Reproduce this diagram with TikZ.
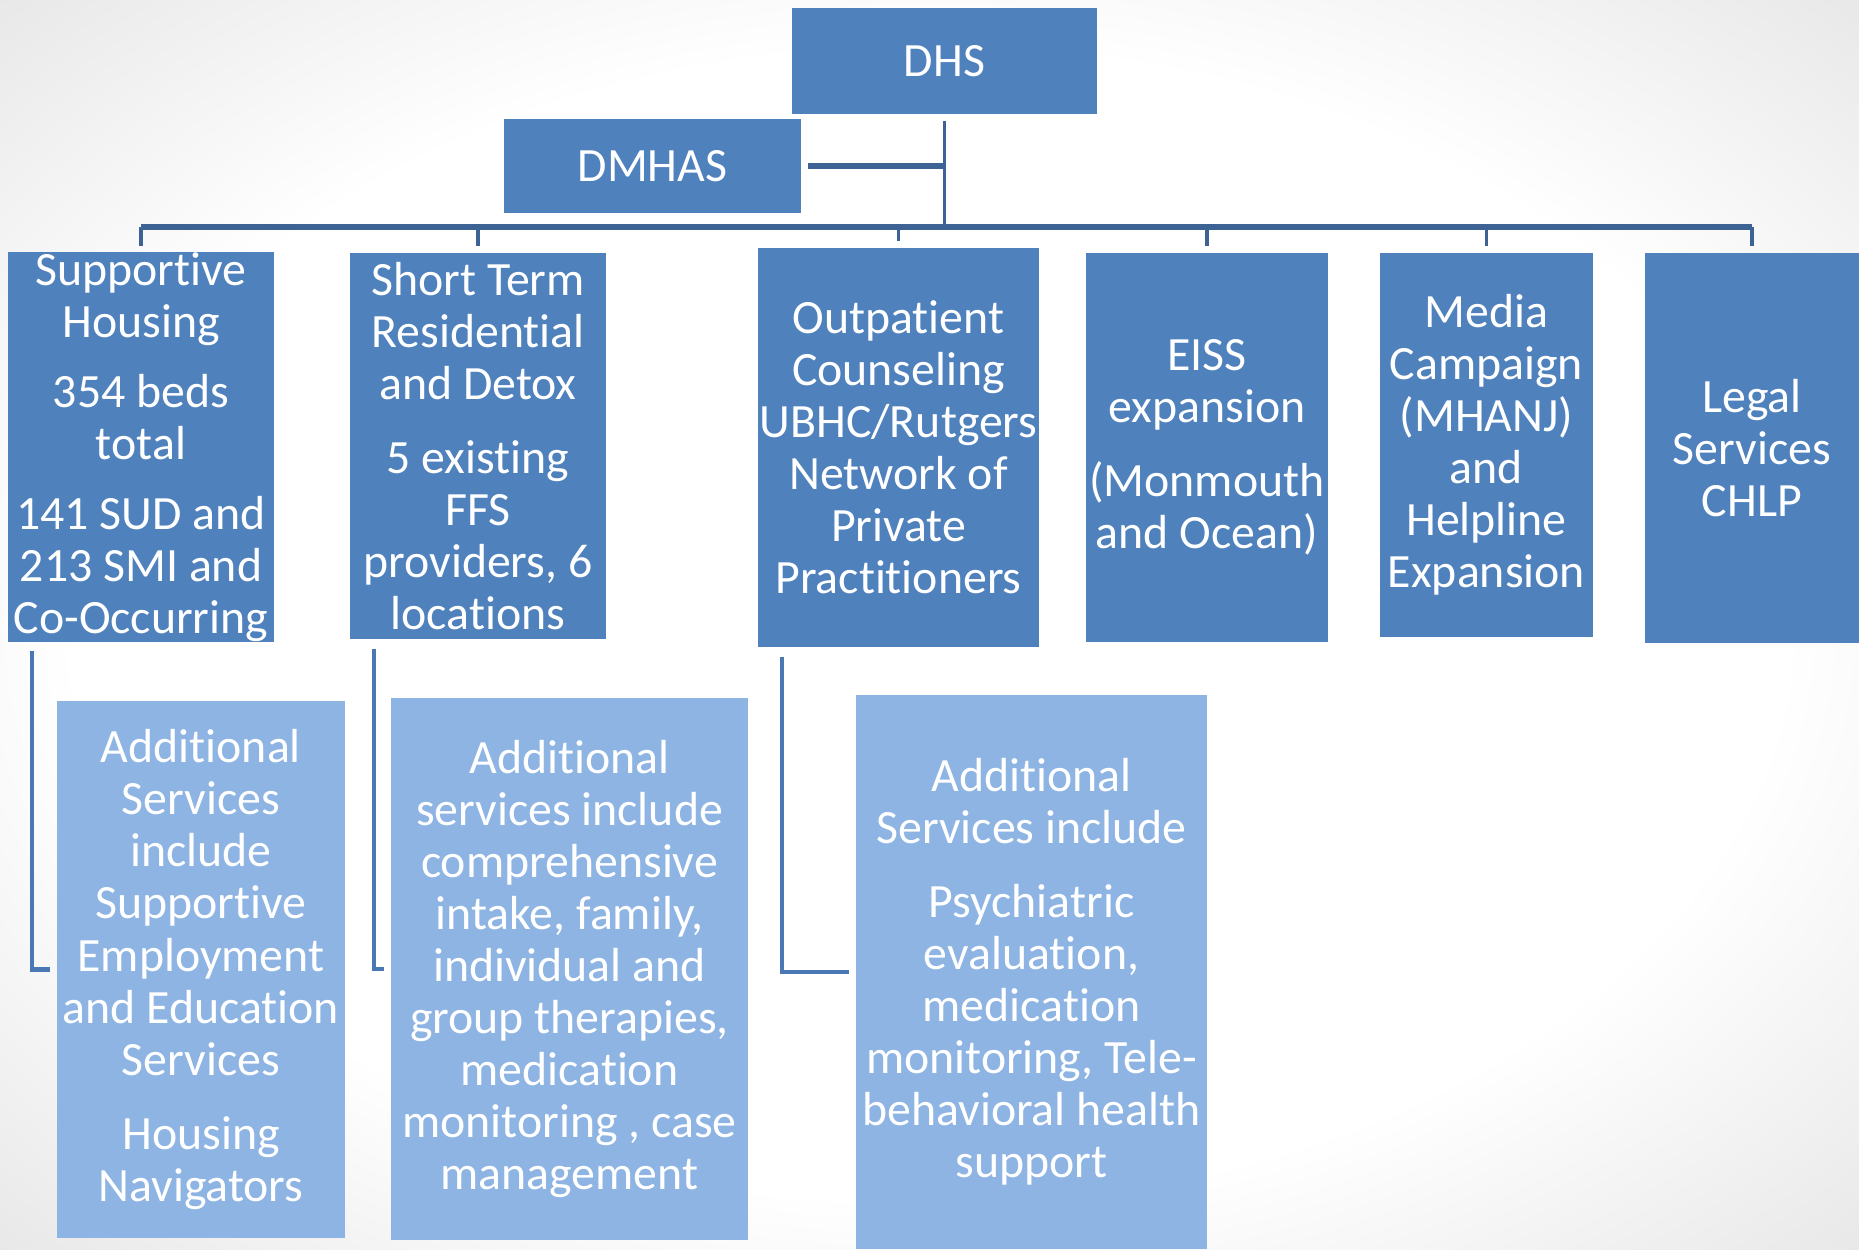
\documentclass[tikz,border=0pt]{standalone}
\usepackage{fontspec}
\setmainfont{Carlito}[Ligatures={NoCommon},Contextuals={NoAlternate}]
\usetikzlibrary{positioning,calc}
\definecolor{boxblue}{RGB}{79,129,189}
\definecolor{subblue}{RGB}{142,180,227}
\definecolor{busblue}{RGB}{60,99,148}
\definecolor{elbowblue}{RGB}{74,120,180}
\definecolor{bggray}{RGB}{231,231,231}
\pgfdeclareradialshading{bgglow}{\pgfpoint{0bp}{0bp}}{color(0bp)=(white); color(23bp)=(white); color(36bp)=(bggray); color(50bp)=(bggray)}

\begin{document}
\begin{tikzpicture}[font=\fontsize{13.6}{14.8}\selectfont]
   \tikzstyle{dept}=[rectangle,fill=boxblue,text=white,inner sep=0pt,align=center]
   \tikzstyle{extra}=[dept,fill=subblue]
   \tikzstyle{conn}=[draw=busblue,line width=1pt]
   \tikzstyle{bus}=[draw=busblue,line width=1.5pt]
   \tikzstyle{elbow}=[draw=elbowblue,line width=1.2pt,shorten <=2.6pt,shorten >=1.7pt]
\useasboundingbox (0,0) rectangle (18.59,-12.49);
\shade[shading=bgglow] (0,0) rectangle (18.59,-12.49);

% top of the chart
\node[dept, minimum width=3.05cm, minimum height=1.06cm] (dhs) at (9.445,-0.61) {DHS};
  \node[dept, minimum width=2.97cm, minimum height=0.94cm] (dmhas) at (6.525,-1.66) {DMHAS};
\coordinate (bus) at (0,-2.27);

% programs
\node[dept, minimum width=2.66cm, minimum height=3.88cm] (sh) at (1.41,-4.47)
{Supportive\\Housing\\[0.18cm]354 beds\\total\\[0.18cm]141 SUD and\\213 SMI and\\Co-Occurring};
  \node[dept, minimum width=2.56cm, minimum height=3.86cm] (st) at (4.78,-4.46)
{Short Term\\Residential\\and Detox\\[0.22cm]5 existing\\FFS\\providers, 6\\locations};
  \node[dept, minimum width=2.81cm, minimum height=3.99cm] (op) at (8.985,-4.475)
{Outpatient\\Counseling\\UBHC/Rutgers\\Network of\\Private\\Practitioners};
  \node[dept, minimum width=2.42cm, minimum height=3.89cm] (eiss) at (12.07,-4.475)
{EISS\\expansion\\[0.22cm](Monmouth\\and Ocean)};
  \node[dept, minimum width=2.13cm, minimum height=3.84cm] (media) at (14.865,-4.45)
{Media\\Campaign\\(MHANJ)\\and\\Helpline\\Expansion};
  \node[dept, minimum width=2.14cm, minimum height=3.90cm] (legal) at (17.52,-4.48)
{Legal\\Services\\CHLP};

% additional services
\node[extra, minimum width=2.88cm, minimum height=5.37cm] (shx) at (2.01,-9.695)
{Additional\\Services\\include\\Supportive\\Employment\\and Education\\Services\\[0.22cm]Housing\\Navigators};
  \node[extra, minimum width=3.57cm, minimum height=5.42cm] (stx) at (5.695,-9.69)
{Additional\\services include\\comprehensive\\intake, family,\\individual and\\group therapies,\\medication\\monitoring , case\\management};
  \node[extra, minimum width=3.51cm, minimum height=5.54cm] (opx) at (10.315,-9.72)
{Additional\\Services include\\[0.22cm]Psychiatric\\evaluation,\\medication\\monitoring, Tele-\\behavioral health\\support};

 \draw[conn, shorten <=1.7pt] (dhs.south) -- (dhs.south |- bus);
 \draw[bus, shorten <=1.7pt] (dmhas.east) -- (dmhas.east -| dhs.south);
 \draw[bus] (sh.north |- bus) -- (legal.north |- bus);
 \foreach \n in {sh,st,op,eiss,media,legal}
   \draw[conn, shorten >=1.7pt] (\n.north |- bus) -- (\n.north);

 \draw[elbow] ([xshift=0.245cm]sh.south west) |- (shx.west);
 \draw[elbow] ([xshift=0.245cm]st.south west) |- (stx.west);
 \draw[elbow] ([xshift=0.245cm]op.south west) |- (opx.west);
\end{tikzpicture}
\end{document}
